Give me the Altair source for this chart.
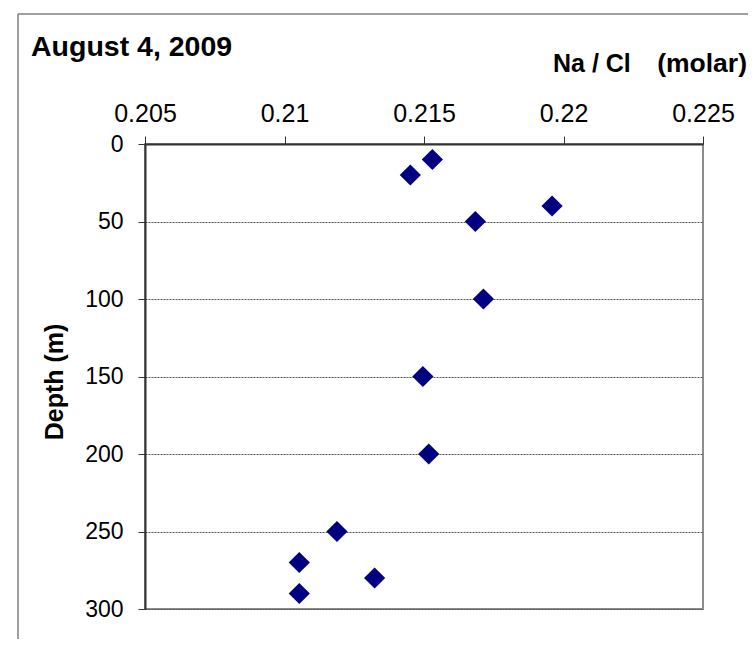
import altair as alt
import pandas as pd

# Data
na_cl = [0.21530, 0.21451, 0.21959, 0.21684, 0.21713, 0.21496, 0.21517,
         0.21188, 0.21053, 0.21323, 0.21053]
depth = [10, 20, 40, 50, 100, 150, 200, 250, 270, 280, 290]
x_ticks = [0.205, 0.21, 0.215, 0.22, 0.225]
y_ticks = [0, 50, 100, 150, 200, 250, 300]
title_text = "August 4, 2009"
x_title_a = "Na / Cl"
x_title_b = "(molar)"
y_title = "Depth (m)"

df = pd.DataFrame({"na_cl": na_cl, "depth": depth})

FONT = "Liberation Sans"
W, H = 558, 465

points = alt.Chart(df).mark_point(
    shape="diamond", filled=True, size=450, color="#000080", opacity=1
).encode(
    x=alt.X("na_cl:Q",
            scale=alt.Scale(domain=[0.205, 0.225], nice=False, zero=False),
            axis=alt.Axis(orient="top", values=x_ticks, format=".3~f",
                          title=None, grid=False, tickSize=8, labelPadding=15,
                          labelBaseline="alphabetic", labelFontSize=25,
                          labelFlush=False, labelOverlap=False,
                          labelFont=FONT, labelColor="black",
                          domainColor="#333333", domainWidth=2,
                          tickColor="#333333", tickWidth=1)),
    y=alt.Y("depth:Q",
            scale=alt.Scale(domain=[0, 300], reverse=True, nice=False),
            axis=alt.Axis(values=y_ticks, title=None, grid=True,
                          gridColor="#555555", gridDash=[2, 1], gridWidth=1,
                          tickSize=7, labelPadding=15, labelFontSize=23,
                          labelFlush=False, labelOverlap=False,
                          labelFont=FONT, labelColor="black",
                          domainColor="#333333", domainWidth=2,
                          tickColor="#333333", tickWidth=1)),
)

one = pd.DataFrame({"a": [0]})

frame_v = alt.Chart(one).mark_rule(color="#808080", strokeWidth=1.5).encode(
    x=alt.value(-127), y=alt.value(-130), y2=alt.value(500))
frame_h = alt.Chart(one).mark_rule(color="#808080", strokeWidth=1.5).encode(
    x=alt.value(-127), x2=alt.value(620), y=alt.value(-130))

title_mark = alt.Chart(pd.DataFrame({"t": [title_text]})).mark_text(
    align="left", baseline="alphabetic", font=FONT, fontSize=28.5,
    fontWeight="bold", color="black"
).encode(x=alt.value(-114), y=alt.value(-88), text="t:N")

xtitle_a = alt.Chart(pd.DataFrame({"t": [x_title_a]})).mark_text(
    align="left", baseline="alphabetic", font=FONT, fontSize=25,
    fontWeight="bold", color="black"
).encode(x=alt.value(408), y=alt.value(-72), text="t:N")

xtitle_b = alt.Chart(pd.DataFrame({"t": [x_title_b]})).mark_text(
    align="right", baseline="alphabetic", font=FONT, fontSize=26.5,
    fontWeight="bold", color="black"
).encode(x=alt.value(602), y=alt.value(-72), text="t:N")

ytitle_mark = alt.Chart(pd.DataFrame({"t": [y_title]})).mark_text(
    align="center", baseline="alphabetic", font=FONT, fontSize=25,
    fontWeight="bold", color="black", angle=270
).encode(x=alt.value(-82), y=alt.value(238), text="t:N")

chart = alt.layer(
    frame_v, frame_h, points, title_mark, xtitle_a, xtitle_b, ytitle_mark
).properties(
    width=W, height=H,
    autosize=alt.AutoSizeParams(type="none"),
    padding={"left": 137, "top": 136, "right": 45, "bottom": 30},
    background="white",
).configure_view(
    stroke="#8c8c8c", strokeWidth=2
)

chart.save("out.html", embed_options={"renderer": "svg", "actions": False})
